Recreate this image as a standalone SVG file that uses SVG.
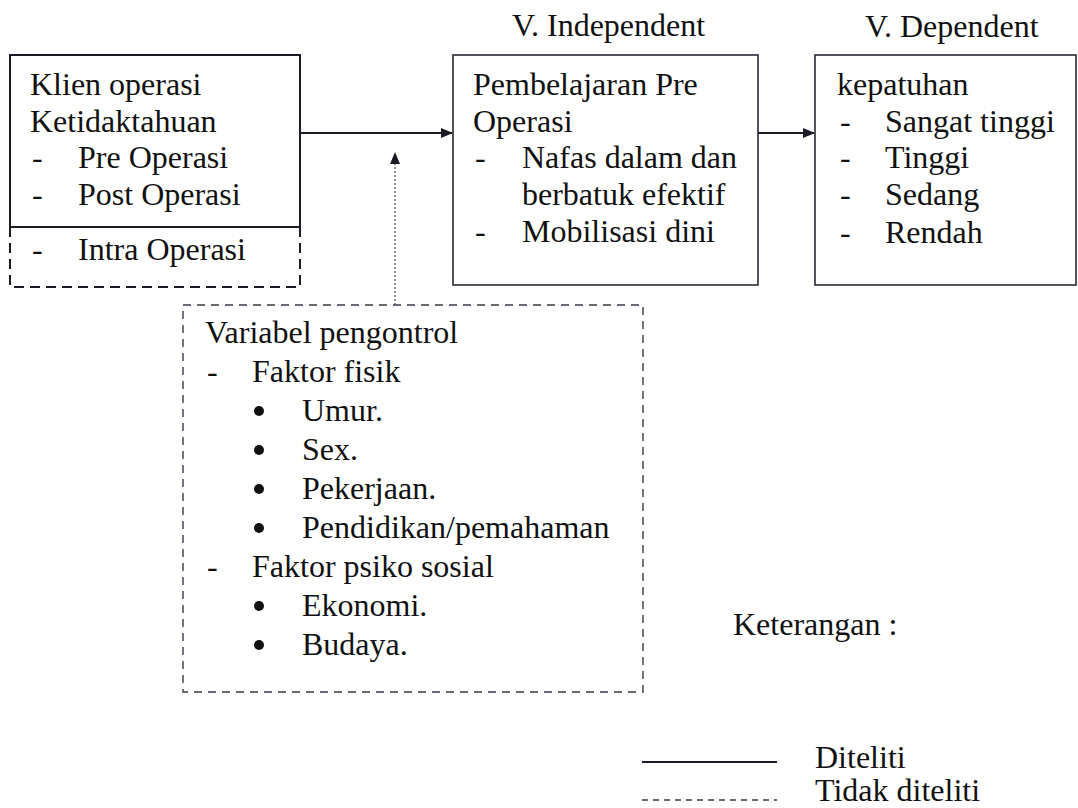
<svg xmlns="http://www.w3.org/2000/svg" width="1078" height="808" viewBox="0 0 1078 808">
<style>
text{font-size:32px;fill:#111;}
.solid{fill:none;stroke:#1b1b28;stroke-width:2;}
.thin{fill:none;stroke:#2a2a36;stroke-width:1.6;}
.dash{fill:none;stroke:#1b1b28;stroke-width:2;stroke-dasharray:10 6;}
.dash2{fill:none;stroke:#3a3a48;stroke-width:1.4;stroke-dasharray:8 6;}
.dot{fill:none;stroke:#555a6e;stroke-width:1.4;stroke-dasharray:2 2;}
.bul{fill:#111;}
</style>
<defs>
<marker id="ah" markerWidth="12" markerHeight="10" refX="11" refY="5" orient="auto" markerUnits="userSpaceOnUse">
<path d="M0,0 L12,5 L0,10 Z" fill="#1b1b28"/>
</marker>
</defs>
<rect width="1078" height="808" fill="#fff"/>
<g font-family="Liberation Serif, Times New Roman, DejaVu Serif, serif">
<g id="header-independent"><text x="512" y="36">V. Independent</text></g>
<g id="header-dependent"><text x="865" y="37">V. Dependent</text></g>

<g id="node-klien">
<rect class="solid" x="10" y="55" width="290" height="172"/>
<text x="30" y="95">Klien operasi</text>
<text x="30" y="132">Ketidaktahuan</text>
<text x="32" y="168">-</text><text x="78" y="168">Pre Operasi</text>
<text x="32" y="205">-</text><text x="78" y="205">Post Operasi</text>
</g>
<g id="node-intra">
<path class="dash" d="M10,227 L10,287 L300,287 L300,227"/>
<text x="32" y="260">-</text><text x="78" y="260">Intra Operasi</text>
</g>

<g id="node-pembelajaran">
<rect class="thin" x="453" y="55" width="305" height="230"/>
<text x="473" y="95">Pembelajaran Pre</text>
<text x="473" y="132">Operasi</text>
<text x="475" y="168">-</text><text x="522" y="168">Nafas dalam dan</text>
<text x="522" y="205">berbatuk efektif</text>
<text x="475" y="242">-</text><text x="522" y="242">Mobilisasi dini</text>
</g>

<g id="node-kepatuhan">
<rect class="thin" x="815" y="55" width="261" height="230"/>
<text x="837" y="95">kepatuhan</text>
<text x="840" y="132">-</text><text x="885" y="132">Sangat tinggi</text>
<text x="840" y="168">-</text><text x="885" y="168">Tinggi</text>
<text x="840" y="205">-</text><text x="885" y="205">Sedang</text>
<text x="840" y="243">-</text><text x="885" y="243">Rendah</text>
</g>

<g id="node-variabel">
<rect class="dash2" x="183" y="305" width="460" height="387"/>
<text x="205" y="343">Variabel pengontrol</text>
<text x="207" y="382">-</text><text x="252" y="382">Faktor fisik</text>
<circle class="bul" cx="259" cy="411" r="5"/><text x="302" y="421">Umur.</text>
<circle class="bul" cx="259" cy="450" r="5"/><text x="302" y="460">Sex.</text>
<circle class="bul" cx="259" cy="489" r="5"/><text x="302" y="499">Pekerjaan.</text>
<circle class="bul" cx="259" cy="528" r="5"/><text x="302" y="538">Pendidikan/pemahaman</text>
<text x="207" y="577">-</text><text x="252" y="577">Faktor psiko sosial</text>
<circle class="bul" cx="259" cy="606" r="5"/><text x="302" y="616">Ekonomi.</text>
<circle class="bul" cx="259" cy="645" r="5"/><text x="302" y="655">Budaya.</text>
</g>

<g id="legend">
<text x="733" y="635">Keterangan :</text>
<line class="solid" x1="642" y1="762" x2="777" y2="762"/>
<text x="815" y="768">Diteliti</text>
<line x1="642" y1="800" x2="777" y2="800" stroke="#3a3a48" stroke-width="1.4" stroke-dasharray="6 5"/>
<text x="815" y="801">Tidak diteliti</text>
</g>
</g>
<g id="connectors">
<line class="solid" x1="300" y1="133" x2="452" y2="133" marker-end="url(#ah)"/>
<line class="solid" x1="758" y1="133" x2="814" y2="133" marker-end="url(#ah)"/>
<line class="dot" x1="395" y1="305" x2="395" y2="153" marker-end="url(#ah)"/>
</g>
</svg>
